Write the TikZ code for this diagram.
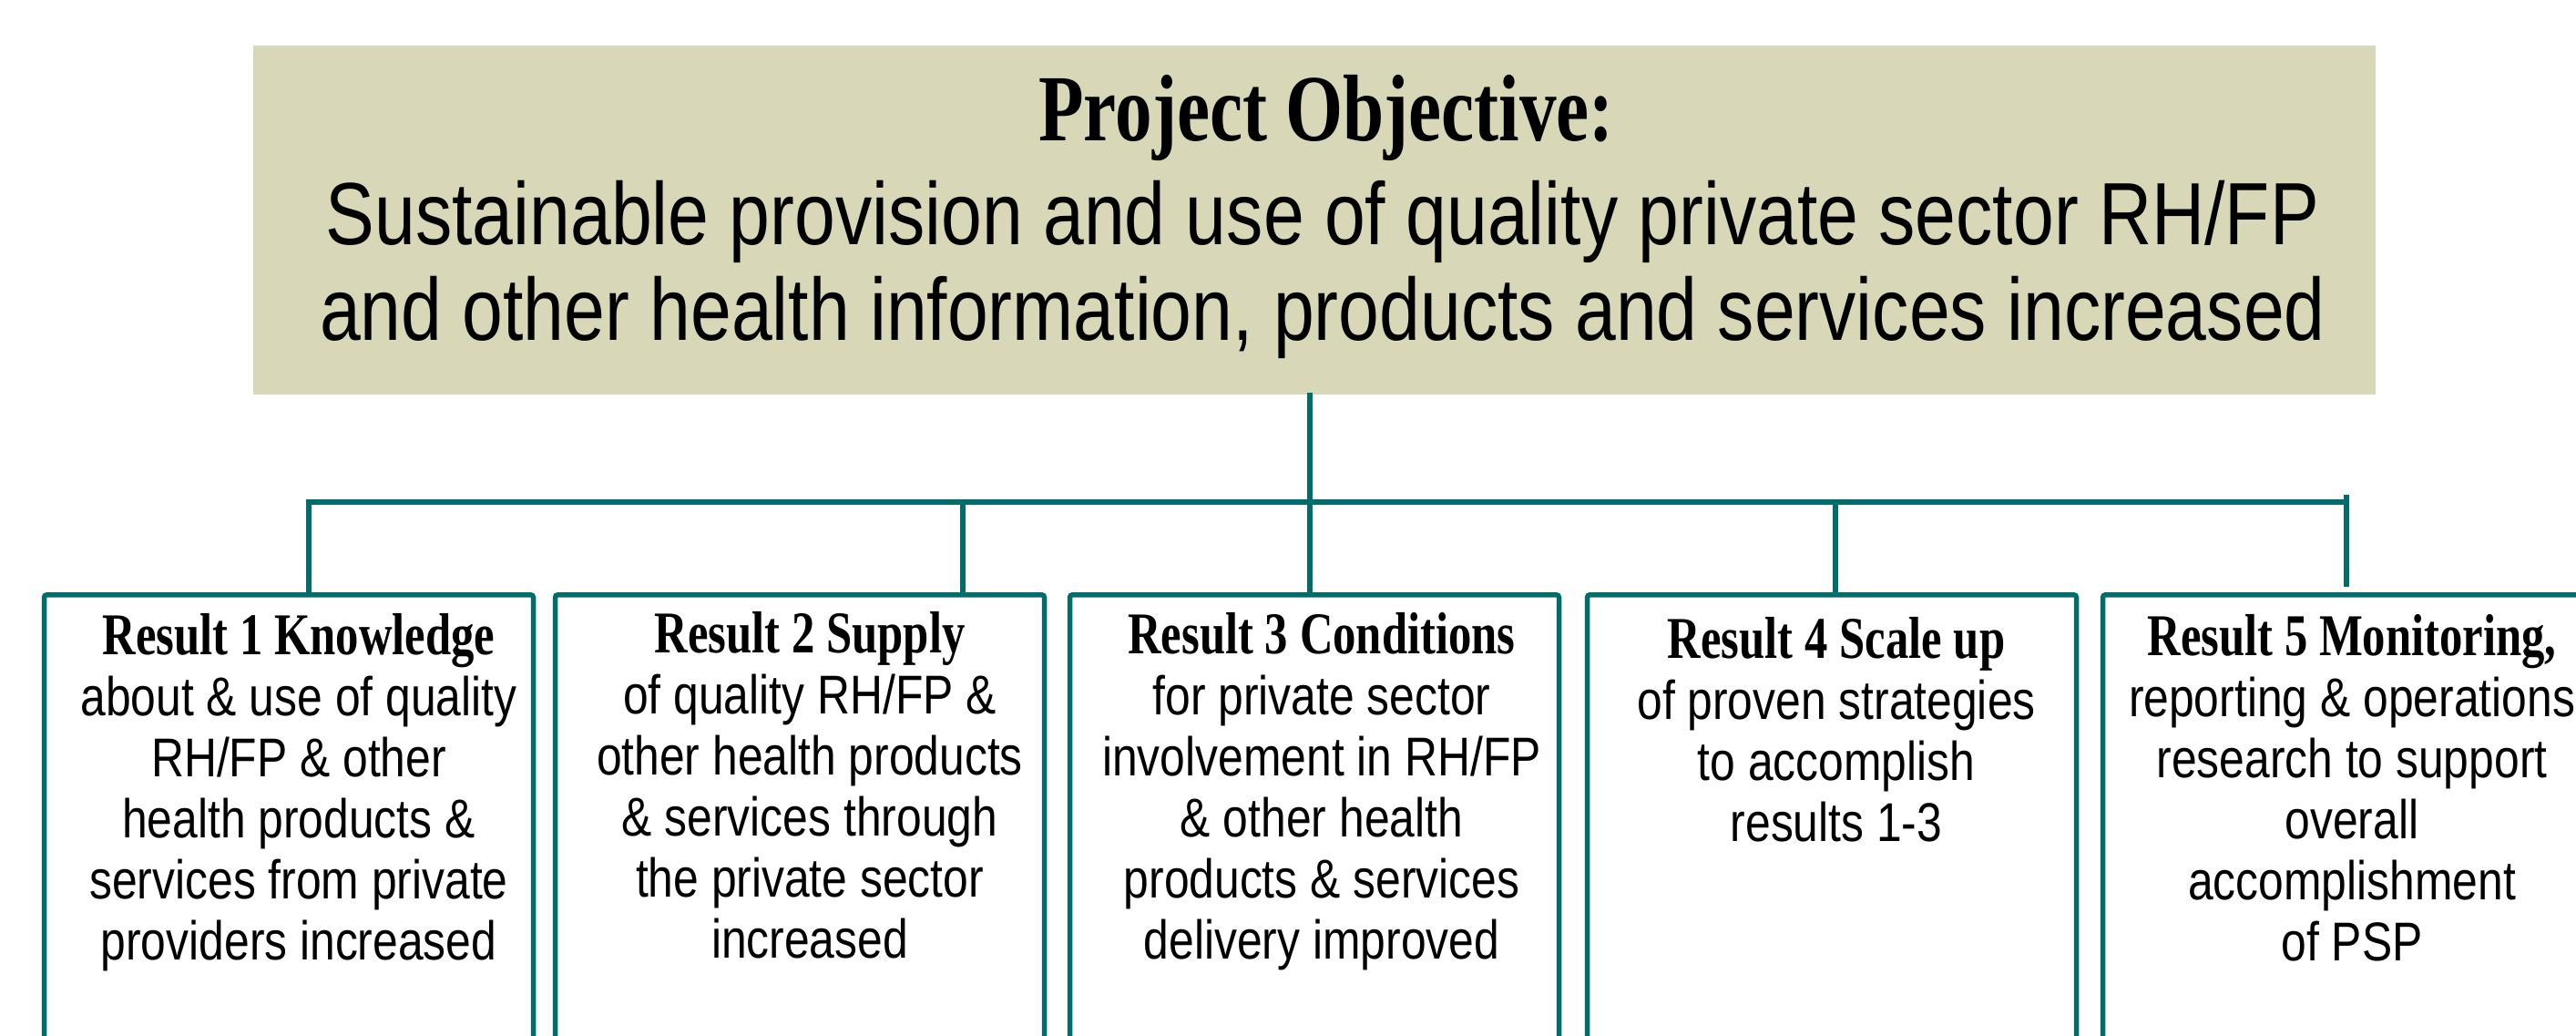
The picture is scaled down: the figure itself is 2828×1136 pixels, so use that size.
\documentclass[tikz,border=0pt]{standalone}
\usepackage{fontspec}
\newfontfamily\bodyfont[FakeStretch=0.83]{Liberation Sans}
\newfontfamily\headfont[FakeStretch=0.78]{Liberation Serif}
\definecolor{tealline}{RGB}{0,108,108}
\definecolor{olivefill}{RGB}{216,216,185}
\begin{document}
\begin{tikzpicture}[x=1pt,y=-1pt,
  link/.style={draw=tealline,line width=5.5pt,line cap=rect},
  resbox/.style={draw=tealline,line width=5.5pt,rounded corners=3pt,minimum width=537pt,minimum height=560pt,anchor=north,inner sep=0pt},
  restext/.style={align=center,anchor=base,inner sep=0pt,font=\bodyfont\fontsize{60}{67}\selectfont},
]
\clip (0,0) rectangle (2828,1136);
\fill[white] (0,0) rectangle (2828,1136);

% objective box
\node[fill=olivefill,minimum width=2330pt,minimum height=383pt,anchor=north west,inner sep=0pt] (obj) at (278,50) {};
\node[anchor=base,inner sep=0pt,font=\headfont\bfseries\fontsize{104}{110}\selectfont] (objtitle) at (1456,154) {Project Objective:};
% base anchor of a multi-line node = baseline of its last line
\node[anchor=base,align=center,inner sep=0pt,font=\bodyfont\fontsize{97}{105}\selectfont] (objtext) at (1452,373)
  {Sustainable provision and use of quality private sector RH/FP\\ and other health information, products and services increased};

% result boxes
\node[resbox] (r1) at (317,650) {};
\node[resbox] (r2) at (878,650) {};
\node[resbox] (r3) at (1443,650) {};
\node[resbox] (r4) at (2011,650) {};
\node[resbox] (r5) at (2577,650) {};

\newcommand{\rtitlefont}{\headfont\bfseries\fontsize{65}{67}\selectfont}

\node[restext] (t1) at (328,1053) {{\rtitlefont Result 1 Knowledge}\\ about \& use of quality\\ RH/FP \& other\\ health products \&\\ services from private\\ providers increased};
\node[restext] (t2) at (889,1051) {{\rtitlefont Result 2 Supply}\\ of quality RH/FP \&\\ other health products\\ \& services through\\ the private sector\\ increased};
\node[restext] (t3) at (1451,1052) {{\rtitlefont Result 3 Conditions}\\ for private sector\\ involvement in RH/FP\\ \& other health\\ products \& services\\ delivery improved};
\node[restext] (t4) at (2016,923) {{\rtitlefont Result 4 Scale up}\\ of proven strategies\\ to accomplish\\ results 1-3};
\node[restext] (t5) at (2582,1054) {{\rtitlefont Result 5 Monitoring,}\\ reporting \& operations\\ research to support\\ overall\\ accomplishment\\ of PSP};

% connectors
\coordinate (j0) at (1438,551);
\coordinate (j1) at (339,551);
\coordinate (j2) at (1057,551);
\coordinate (j4) at (2015,551);
\coordinate (j5) at (2576,551);
\coordinate (j5t) at (2576,543);
\draw[link] (obj.south -| j0) -- (j0) -- (r3.north -| j0);
\draw[link] (j1) -- (j5);
\draw[link] (j1) -- (r1.north -| j1);
\draw[link] (j2) -- (r2.north -| j2);
\draw[link] (j4) -- (r4.north -| j4);
\draw[link,line cap=butt] (j5t) -- ([yshift=6pt]r5.north -| j5t);
\end{tikzpicture}
\end{document}
